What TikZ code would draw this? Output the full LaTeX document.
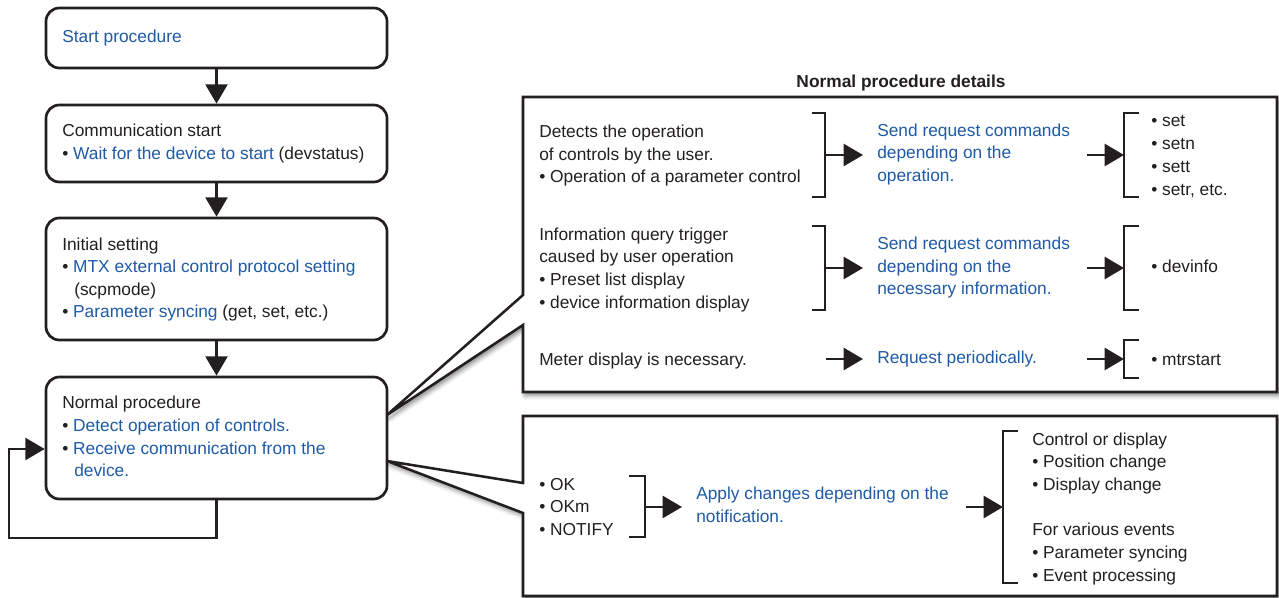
\documentclass[tikz,border=0pt]{standalone}
\usepackage{fontspec}
\setmainfont{Liberation Sans}
\usetikzlibrary{arrows.meta,shadows.blur}
\definecolor{ink}{HTML}{231F20}
\definecolor{blu}{HTML}{1F5AA8}
\newcommand\blutext[1]{\textcolor{blu}{#1}}
\begin{document}
\begin{tikzpicture}[x=0.75pt,y=-0.75pt, line join=miter,
  box/.style={draw=ink, line width=2pt, rounded corners=10pt, fill=white, minimum width=255.75pt, inner sep=0pt},
  txt/.style={anchor=base west, inner sep=0pt, font=\fontsize{13}{16}\selectfont, text=ink},
  btxt/.style={txt, text=blu},
  arr/.style={draw=ink, line width=1.9pt, -{Triangle[length=14.5pt,width=16.5pt]}},
  brk/.style={draw=ink, line width=1.9pt},
  callout/.style={draw=ink, line width=1.9pt, fill=white, blur shadow={shadow xshift=1.5pt, shadow yshift=-2.5pt, shadow blur radius=3.5pt, shadow opacity=50}}]
\useasboundingbox (0,0) rectangle (1279,598);

% callouts
\coordinate (tipA) at (387,415);
\coordinate (tipB) at (387,461);
\draw[callout] (523,97) -- (1277,97) -- (1277,392) -- (523,392) -- (523,325) -- (tipA) -- (523,295) -- cycle;
\draw[callout] (523,416) -- (1277,416) -- (1277,596) -- (523,596) -- (523,513) -- (tipB) -- (523,483) -- cycle;

% left column boxes
\node[box, minimum height=45pt] (b1) at (216.5,38) {};
\node[box, minimum height=57.75pt] (b2) at (216.5,143.5) {};
\node[box, minimum height=91.5pt] (b3) at (216.5,279) {};
\node[box, minimum height=91.5pt] (b4) at (216.5,438) {};

\draw[arr] (b1.south) -- (b2.north);
\draw[arr] (b2.south) -- (b3.north);
\draw[arr] (b3.south) -- (b4.north);
\coordinate (lpA) at (9,538);
\coordinate (lpB) at (9,449);
\draw[arr] (b4.south) |- (lpA) -- (lpB) -- (lpB -| b4.west);

% left texts
\node[btxt] (t1) at (62,43) {Start procedure};
\node[txt] (t2a) at (62,137) {Communication start};
\node[txt] (t2b) at (62,160) {• \blutext{Wait for the device to start} (devstatus)};
\node[txt] (t3a) at (62,251) {Initial setting};
\node[txt] (t3b) at (62,273) {• \blutext{MTX external control protocol setting}};
\node[txt] (t3c) at (74,296) {(scpmode)};
\node[txt] (t3d) at (62,318) {• \blutext{Parameter syncing} (get, set, etc.)};
\node[txt] (t4a) at (62,409) {Normal procedure};
\node[txt] (t4b) at (62,432) {• \blutext{Detect operation of controls.}};
\node[txt] (t4c) at (62,455) {• \blutext{Receive communication from the}};
\node[btxt] (t4d) at (74,477) {device.};

% title
\node[txt, anchor=base, font=\fontsize{13}{16}\selectfont\bfseries] (title) at (901,88) {Normal procedure details};

% row 1
\node[txt] (r1a) at (539,138) {Detects the operation};
\node[txt] (r1b) at (539,160.5) {of controls by the user.};
\node[txt] (r1c) at (539,183) {• Operation of a parameter control};
\draw[brk] (812,113) -- (825,113) -- (825,197) -- (812,197);
\coordinate (r1o) at (825,155);
\coordinate (r1i) at (863,155);
\draw[arr] (r1o) -- (r1i);
\node[btxt] (s1a) at (877,137) {Send request commands};
\node[btxt] (s1b) at (877,159) {depending on the};
\node[btxt] (s1c) at (877,182) {operation.};
\coordinate (c1o) at (1087,155);
\coordinate (c1i) at (1124,155);
\draw[arr] (c1o) -- (c1i);
\draw[brk] (1139,113) -- (1124,113) -- (1124,197) -- (1139,197);
\node[txt] (k1a) at (1151,127) {• set};
\node[txt] (k1b) at (1151,150) {• setn};
\node[txt] (k1c) at (1151,172.5) {• sett};
\node[txt] (k1d) at (1151,195.5) {• setr, etc.};

% row 2
\node[txt] (r2a) at (539,240.5) {Information query trigger};
\node[txt] (r2b) at (539,263) {caused by user operation};
\node[txt] (r2c) at (539,286) {• Preset list display};
\node[txt] (r2d) at (539,309) {• device information display};
\draw[brk] (812,226) -- (825,226) -- (825,310) -- (812,310);
\coordinate (r2o) at (825,268);
\coordinate (r2i) at (863,268);
\draw[arr] (r2o) -- (r2i);
\node[btxt] (s2a) at (877,250) {Send request commands};
\node[btxt] (s2b) at (877,272.5) {depending on the};
\node[btxt] (s2c) at (877,295) {necessary information.};
\coordinate (c2o) at (1087,268);
\coordinate (c2i) at (1124,268);
\draw[arr] (c2o) -- (c2i);
\draw[brk] (1139,226) -- (1124,226) -- (1124,310) -- (1139,310);
\node[txt] (k2a) at (1151,273) {• devinfo};

% row 3
\node[txt] (r3a) at (539,366) {Meter display is necessary.};
\coordinate (r3o) at (826,359);
\coordinate (r3i) at (863,359);
\draw[arr] (r3o) -- (r3i);
\node[btxt] (s3a) at (877,364) {Request periodically.};
\coordinate (c3o) at (1087,359);
\coordinate (c3i) at (1124,359);
\draw[arr] (c3o) -- (c3i);
\draw[brk] (1139,340) -- (1124,340) -- (1124,378) -- (1139,378);
\node[txt] (k3a) at (1151,365.5) {• mtrstart};

% bottom box
\node[txt] (n1) at (539,490.5) {• OK};
\node[txt] (n2) at (539,513) {• OKm};
\node[txt] (n3) at (539,536) {• NOTIFY};
\draw[brk] (629,476) -- (645,476) -- (645,537) -- (629,537);
\coordinate (bo) at (645,507);
\coordinate (bi) at (682,507);
\draw[arr] (bo) -- (bi);
\node[btxt] (ap1) at (696,500) {Apply changes depending on the};
\node[btxt] (ap2) at (696,522.5) {notification.};
\coordinate (do) at (966,507);
\coordinate (di) at (1003,507);
\draw[arr] (do) -- (di);
\draw[brk] (1018,431) -- (1003,431) -- (1003,583) -- (1018,583);
\node[txt] (e1) at (1032,445.5) {Control or display};
\node[txt] (e2) at (1032,468) {• Position change};
\node[txt] (e3) at (1032,490.5) {• Display change};
\node[txt] (e4) at (1032,536) {For various events};
\node[txt] (e5) at (1032,559) {• Parameter syncing};
\node[txt] (e6) at (1032,581.5) {• Event processing};
\end{tikzpicture}
\end{document}
